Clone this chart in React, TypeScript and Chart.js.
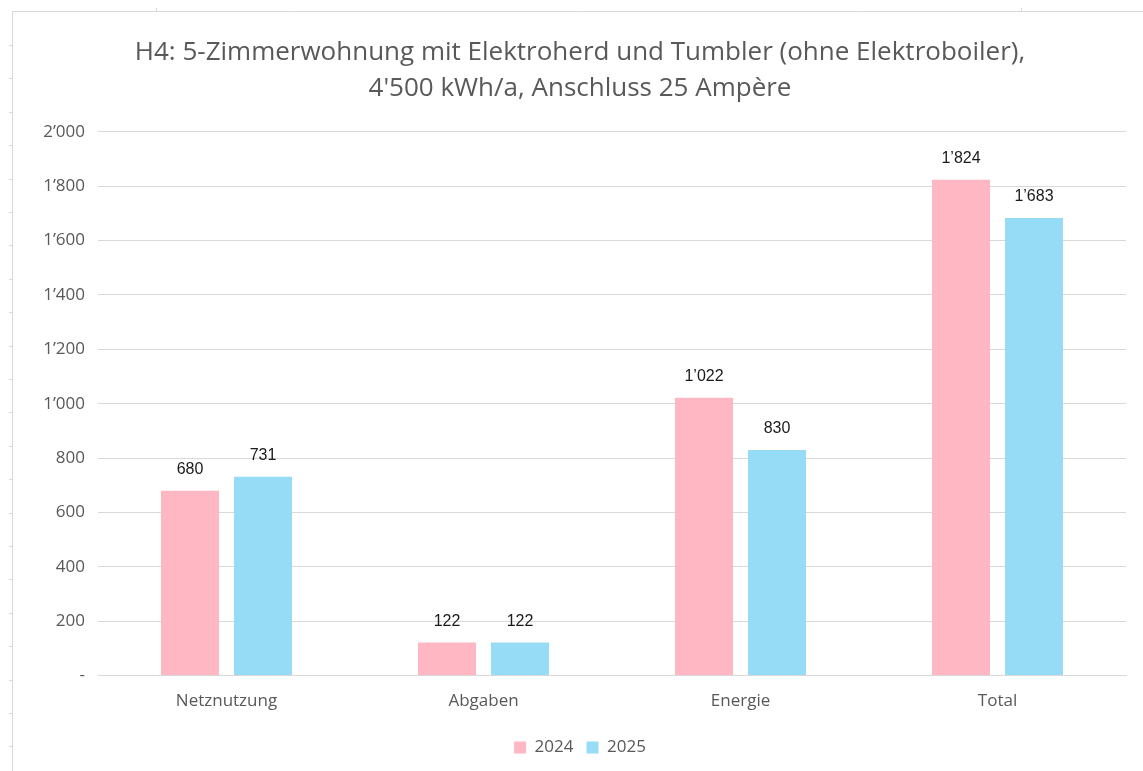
import React, { useEffect, useRef } from "react";
import { Chart, registerables } from "chart.js";

Chart.register(...registerables);

const categories = ["Netznutzung", "Abgaben", "Energie", "Total"];
const values2024 = [680, 122, 1022, 1824];
const values2025 = [731, 122, 830, 1683];
const seriesLabels = ["2024", "2025"];
const titleLines = [
  "H4: 5-Zimmerwohnung mit Elektroherd und Tumbler (ohne Elektroboiler),",
  "4'500 kWh/a, Anschluss 25 Ampère",
];
const yTickValues = [0, 200, 400, 600, 800, 1000, 1200, 1400, 1600, 1800, 2000];

const fmt = (v: number) => {
  if (v === 0) return "-";
  const s = Math.round(v).toString();
  return s.replace(/\B(?=(\d{3})+(?!\d))/g, "\u2019");
};

const framePlugin = {
  id: "frame",
  beforeDraw(chart: any) {
    const ctx = chart.ctx;
    ctx.save();
    ctx.fillStyle = "#ffffff";
    ctx.fillRect(0, 0, chart.width, chart.height);
    ctx.strokeStyle = "#d9d9d9";
    ctx.lineWidth = 1;
    ctx.beginPath();
    ctx.moveTo(12, 11.5);
    ctx.lineTo(chart.width, 11.5);
    ctx.moveTo(12.5, 11);
    ctx.lineTo(12.5, chart.height);
    for (let y = 45; y < chart.height; y += 33.4) {
      ctx.moveTo(9, Math.round(y) + 0.5);
      ctx.lineTo(12, Math.round(y) + 0.5);
    }
    ctx.moveTo(156.5, 8);
    ctx.lineTo(156.5, 11);
    ctx.moveTo(1021.5, 8);
    ctx.lineTo(1021.5, 11);
    ctx.stroke();
    ctx.restore();
  },
};

const valueLabelPlugin = {
  id: "valueLabels",
  afterDatasetsDraw(chart: any) {
    const ctx = chart.ctx;
    ctx.save();
    ctx.font = '16px "Liberation Sans", Arial, sans-serif';
    ctx.fillStyle = "#1a1a1a";
    ctx.textAlign = "center";
    ctx.textBaseline = "middle";
    chart.data.datasets.forEach((ds: any, di: number) => {
      const meta = chart.getDatasetMeta(di);
      meta.data.forEach((bar: any, i: number) => {
        ctx.fillText(fmt(ds.data[i]), bar.x, bar.y - 21);
      });
    });
    ctx.restore();
  },
};

export default function App() {
  const ref = useRef<HTMLCanvasElement>(null);
  useEffect(() => {
    if (!ref.current) return;
    const chart = new Chart(ref.current, {
      type: "bar",
      data: {
        labels: categories,
        datasets: [
          {
            label: seriesLabels[0],
            data: values2024,
            backgroundColor: "#FFB7C3",
            categoryPercentage: 0.568,
            barPercentage: 0.795,
          },
          {
            label: seriesLabels[1],
            data: values2025,
            backgroundColor: "#97DCF7",
            categoryPercentage: 0.568,
            barPercentage: 0.795,
          },
        ],
      },
      options: {
        animation: false,
        responsive: false,
        maintainAspectRatio: false,
        layout: { padding: { left: 34, right: 17, top: 0, bottom: 5 } },
        plugins: {
          title: {
            display: true,
            text: titleLines,
            color: "#595959",
            font: { family: '"Open Sans", sans-serif', size: 26, weight: "normal", lineHeight: 1.4 },
            padding: { top: 34, bottom: 25 },
          },
          legend: {
            position: "bottom",
            labels: {
              boxWidth: 12,
              boxHeight: 12,
              padding: 13,
              color: "#595959",
              font: { family: '"Open Sans", sans-serif', size: 17 },
            },
          },
          tooltip: { enabled: false },
        },
        scales: {
          x: {
            grid: { display: false, drawTicks: false },
            border: { display: true, color: "#d9d9d9" },
            ticks: {
              color: "#595959",
              padding: 15,
              font: { family: '"Open Sans", sans-serif', size: 17 },
            },
          },
          y: {
            min: 0,
            max: 2000,
            afterFit: (scale: any) => {
              scale.width = 64;
            },
            afterBuildTicks: (scale: any) => {
              scale.ticks = yTickValues.map((v) => ({ value: v }));
            },
            grid: { color: "#d9d9d9", drawTicks: false },
            border: { display: false },
            ticks: {
              color: "#595959",
              padding: 13,
              font: { family: '"Open Sans", sans-serif', size: 17 },
              callback: (v: any) => fmt(Number(v)),
            },
          },
        },
      },
      plugins: [framePlugin, valueLabelPlugin],
    });
    return () => chart.destroy();
  }, []);
  return (
    <div style={{ position: "absolute", left: 0, top: 0, width: 1143, height: 771 }}>
      <canvas ref={ref} width={1143} height={771} style={{ display: "block" }} />
    </div>
  );
}
